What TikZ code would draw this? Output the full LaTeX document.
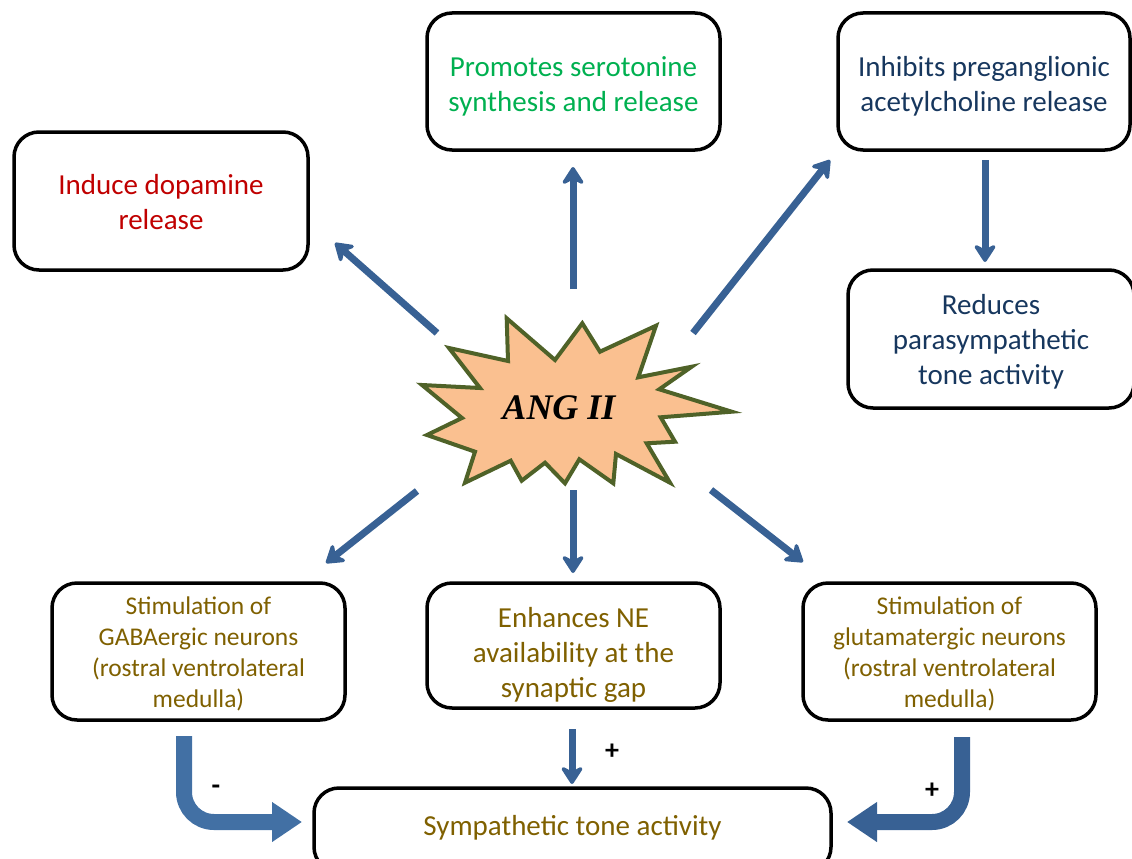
\documentclass[tikz,border=0pt]{standalone}
\usepackage{fontspec}
\setmainfont{Carlito}
\newfontfamily\angfont{Liberation Serif}
\usetikzlibrary{arrows.meta}
\definecolor{arrblue}{HTML}{386194}
\definecolor{bentblue}{HTML}{4270A4}
\definecolor{starfill}{HTML}{FAC090}
\definecolor{starline}{HTML}{4F6228}
\definecolor{redtxt}{HTML}{C00000}
\definecolor{greentxt}{HTML}{00B050}
\definecolor{navytxt}{HTML}{17375E}
\definecolor{olivetxt}{HTML}{7F6000}
\tikzset{
  box/.style={draw=black, line width=3.5pt, rounded corners=25pt, inner sep=0pt},
  txt/.style={align=center, inner sep=0pt, font=\fontsize{29}{35}\selectfont},
  smalltxt/.style={txt, font=\fontsize{25.5}{31}\selectfont},
  arr/.style={draw=arrblue, line width=7pt, -{Stealth[round, length=21pt, width=27pt, inset=7pt]}},
  bent/.style={draw=bentblue, line width=16pt, rounded corners=30pt, -{Triangle[length=30pt, width=38pt]}},
  sign/.style={font=\fontsize{28}{30}\selectfont\bfseries, text=black, inner sep=0pt}
}
\begin{document}
\begin{tikzpicture}[x=1pt, y=-1pt]
\useasboundingbox (0,0) rectangle (1132,859);
\begin{scope}
\clip (0,0) rectangle (1132,859);
% boxes
\node[box, minimum width=294pt, minimum height=138pt] (dop) at (161,201) {};
\node[box, minimum width=293pt, minimum height=137pt] (ser) at (573.5,81.5) {};
\node[box, minimum width=292pt, minimum height=137pt] (inh) at (984,81.5) {};
\node[box, minimum width=286pt, minimum height=138pt] (red) at (991,339) {};
\node[box, minimum width=293pt, minimum height=137pt] (gaba) at (198.5,651.5) {};
\node[box, minimum width=293pt, minimum height=125pt] (ne) at (573.5,645.5) {};
\node[box, minimum width=293pt, minimum height=137pt] (glu) at (949.5,651.5) {};
\node[box, minimum width=517pt, minimum height=84pt] (sym) at (572.5,830) {};
% texts
\node[txt, text=redtxt] (dopt) at ([yshift=-1.5pt]dop.center) {Induce dopamine\\release};
\node[txt, text=greentxt] (sert) at ([yshift=-4.5pt]ser.center) {Promotes serotonine\\synthesis and release};
\node[txt, text=navytxt] (inht) at ([yshift=-4.5pt]inh.center) {Inhibits preganglionic\\acetylcholine release};
\node[txt, text=navytxt] (redt) at ([yshift=-3pt]red.center) {Reduces\\parasympathetic\\tone activity};
\node[smalltxt, text=olivetxt] (gabat) at ([yshift=-2pt]gaba.center) {Stimulation of\\GABAergic neurons\\(rostral ventrolateral\\medulla)};
\node[txt, text=olivetxt] (net) at ([yshift=-9pt]ne.center) {Enhances NE\\availability at the\\synaptic gap};
\node[smalltxt, text=olivetxt] (glut) at ([yshift=-2pt]glu.center) {Stimulation of\\glutamatergic neurons\\(rostral ventrolateral\\medulla)};
\node[txt, text=olivetxt] (symt) at (572.5,828) {Sympathetic tone activity};
\end{scope}
% star
\draw[fill=starfill, draw=starline, line width=4pt, line join=miter]
 (506.7,318.3) -- (555,360) -- (582.3,323.3) -- (600,351.7) -- (656,325.7) -- (638.3,377.3)
 -- (691.7,366.7) -- (659.3,389.3) -- (731.7,411.7) -- (660.7,417.3) -- (675,441.7)
 -- (646.7,443.3) -- (670,482.7) -- (616,454) -- (613.3,483.3) -- (579.3,459.3)
 -- (565,483.3) -- (545,462.7) -- (521.7,480.7) -- (510.7,460.7) -- (465,482.7)
 -- (475,451.7) -- (427,435) -- (462,418) -- (422,385) -- (480,388) -- (449,348)
 -- (508,361) -- cycle;
\node[font=\angfont\fontsize{36}{40}\selectfont\bfseries\itshape, inner sep=0pt] (ang) at (559,408) {ANG II};
% arrow end points
\coordinate (a1s) at (437,333); \coordinate (a1e) at (335,243);
\coordinate (a2s) at (573,289); \coordinate (a2e) at (573,167);
\coordinate (a3s) at (693,333); \coordinate (a3e) at (830,160);
\coordinate (a4s) at (985,160); \coordinate (a4e) at (985,262);
\coordinate (a5s) at (417,491); \coordinate (a5e) at (326,563);
\coordinate (a6s) at (573,490); \coordinate (a6e) at (573,573);
\coordinate (a7s) at (711,490); \coordinate (a7e) at (803,562);
\coordinate (a8s) at (572,729); \coordinate (a8e) at (572,784);
\coordinate (b1s) at (184,736); \coordinate (b1e) at (302,822);
\coordinate (b2s) at (962,737); \coordinate (b2e) at (847,822);
\draw[arr] (a1s) -- (a1e);
\draw[arr] (a2s) -- (a2e);
\draw[arr] (a3s) -- (a3e);
\draw[arr] (a4s) -- (a4e);
\draw[arr] (a5s) -- (a5e);
\draw[arr] (a6s) -- (a6e);
\draw[arr] (a7s) -- (a7e);
\draw[arr] (a8s) -- (a8e);
\draw[bent] (b1s) |- (b1e);
\draw[bent, draw=arrblue] (b2s) |- (b2e);
% signs
\node[sign] (pne) at (612,752) {+};
\node[sign] (pglu) at (932,791) {+};
\node[sign] (mgaba) at (216,790) {-};
\end{tikzpicture}
\end{document}
